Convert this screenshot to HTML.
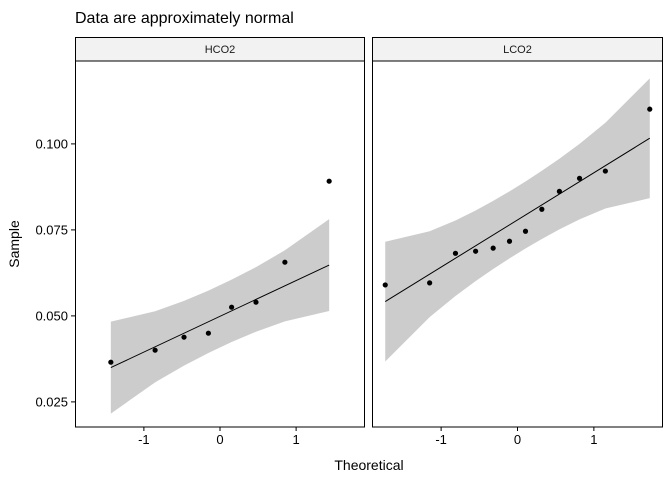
<!DOCTYPE html>
<html><head><meta charset="utf-8"><style>
body{margin:0;background:#fff;}
svg{font-family:"Liberation Sans",Arial,sans-serif;display:block}
</style></head><body>
<svg id="chart" width="672" height="480" xmlns="http://www.w3.org/2000/svg"></svg>
<script>
const panelNames = ["HCO2", "LCO2"];
const hco2Values = [0.03654, 0.04003, 0.04381, 0.04497, 0.05253, 0.05398, 0.06561, 0.08916];
const lco2Values = [0.0590, 0.0596, 0.0682, 0.0688, 0.0697, 0.0717, 0.0746, 0.0810, 0.0862, 0.0900, 0.0921, 0.1101];
const yTicks = [0.025, 0.050, 0.075, 0.100];
const yTickLabels = ["0.025", "0.050", "0.075", "0.100"];
const xTicks = [-1, 0, 1];
const xTickLabels = ["-1", "0", "1"];

const NS = "http://www.w3.org/2000/svg";
const svg = document.getElementById("chart");
function el(tag, attrs, parent) {
  const e = document.createElementNS(NS, tag);
  for (const k in attrs) e.setAttribute(k, attrs[k]);
  (parent || svg).appendChild(e);
  return e;
}
const panelTop = 61, panelBottom = 427;
const yMin = 0.0177, yMax = 0.1241;
const xMin = -1.905, xMax = 1.905;
function yScale(v) { return panelBottom - (v - yMin) / (yMax - yMin) * (panelBottom - panelTop); }
const panels = [{l: 75, r: 365, data: hco2Values}, {l: 372, r: 663, data: lco2Values}];

function qnorm(p) {
  const a=[-39.69683028665376,220.9460984245205,-275.9285104469687,138.3577518672690,-30.66479806614716,2.506628277459239];
  const b=[-54.47609879822406,161.5858368580409,-155.6989798598866,66.80131188771972,-13.28068155211847];
  const c=[-0.007784894002430293,-0.3223964580411365,-2.400758277161838,-2.549732539343734,4.374664141464968,2.938163982698783];
  const d=[0.007784695709041462,0.3224671290700398,2.445134137142996,3.754408661907416];
  let q, r;
  if (p < 0.02425) { q = Math.sqrt(-2*Math.log(p)); return (((((c[0]*q+c[1])*q+c[2])*q+c[3])*q+c[4])*q+c[5])/((((d[0]*q+d[1])*q+d[2])*q+d[3])*q+1); }
  if (p > 1-0.02425) { q = Math.sqrt(-2*Math.log(1-p)); return -(((((c[0]*q+c[1])*q+c[2])*q+c[3])*q+c[4])*q+c[5])/((((d[0]*q+d[1])*q+d[2])*q+d[3])*q+1); }
  q = p-0.5; r = q*q;
  return (((((a[0]*r+a[1])*r+a[2])*r+a[3])*r+a[4])*r+a[5])*q/(((((b[0]*r+b[1])*r+b[2])*r+b[3])*r+b[4])*r+1);
}
function dnorm(x) { return Math.exp(-x*x/2) / Math.sqrt(2*Math.PI); }
function quantile(s, p) { const h = (s.length-1)*p, lo = Math.floor(h); return s[lo] + (h-lo)*((s[lo+1]!==undefined?s[lo+1]:s[lo]) - s[lo]); }

let t = el("text", {x: 75, y: 23, "font-size": 16, fill: "#000"}); t.textContent = "Data are approximately normal";


t = el("text", {x: 369, y: 470, "font-size": 14, fill: "#000", "text-anchor": "middle"}); t.textContent = "Theoretical";


t = el("text", {x: 19, y: 244, "font-size": 14, fill: "#000", "text-anchor": "middle", transform: "rotate(-90 19 244)"}); t.textContent = "Sample";



yTicks.forEach((v, i) => {
  const y = yScale(v);
  const tk = el("line", {x1: 71, x2: 75, y1: y, y2: y, stroke: "#000", "stroke-width": 1});
  
  
  const lb = el("text", {x: 68, y: y + 4.5, "font-size": 13, fill: "#000", "text-anchor": "end"});
  lb.textContent = yTickLabels[i];
  
  
});

panels.forEach((p, pi) => {
  const xs = v => p.l + (v - xMin) / (xMax - xMin) * (p.r - p.l);
  const g = el("g", {});
  
  
  const n = p.data.length, a = n <= 10 ? 0.375 : 0.5;
  const probs = p.data.map((_, i) => (i + 1 - a) / (n + 1 - 2*a));
  const z = probs.map(qnorm);
  const s = p.data.slice().sort((u, w) => u - w);
  const q1 = quantile(s, 0.25), q3 = quantile(s, 0.75);
  const slope = (q3 - q1) / (qnorm(0.75) - qnorm(0.25));
  const inter = q1 - slope * qnorm(0.25);
  const up = [], lo = [];
  z.forEach((zz, i) => {
    const fit = inter + slope * zz;
    const se = slope / dnorm(zz) * Math.sqrt(probs[i] * (1 - probs[i]) / n);
    up.push(xs(zz) + "," + yScale(fit + 1.96 * se));
    lo.unshift(xs(zz) + "," + yScale(fit - 1.96 * se));
  });
  const band = el("polygon", {points: up.concat(lo).join(" "), fill: "#cccccc"}, g);
  
  
  const ln = el("line", {x1: xs(z[0]), y1: yScale(inter + slope*z[0]), x2: xs(z[n-1]), y2: yScale(inter + slope*z[n-1]), stroke: "#000", "stroke-width": 1}, g);
  
  
  s.forEach((v, i) => {
    const c = el("circle", {cx: xs(z[i]), cy: yScale(v), r: 2.6, fill: "#000"}, g);
    
    
  });
  const bd = el("rect", {x: p.l + 0.5, y: panelTop, width: p.r - p.l - 1, height: panelBottom - panelTop, fill: "none", stroke: "#000", "stroke-width": 1}, g);
  
  
  const st = el("rect", {x: p.l + 0.5, y: 37.5, width: p.r - p.l - 1, height: 23.5, fill: "#f2f2f2", stroke: "#000", "stroke-width": 1}, g);
  
  
  const sl = el("text", {x: (p.l + p.r) / 2, y: 53, "font-size": 11, fill: "#1a1a1a", "text-anchor": "middle"}, g);
  sl.textContent = panelNames[pi];
  
  
  xTicks.forEach((v, i) => {
    const x = xs(v);
    const tk = el("line", {x1: x, x2: x, y1: panelBottom, y2: panelBottom + 4, stroke: "#000", "stroke-width": 1}, g);
    
    
    const lb = el("text", {x: x, y: panelBottom + 17, "font-size": 13, fill: "#000", "text-anchor": "middle"}, g);
    lb.textContent = xTickLabels[i];
    
    
  });
});
</script>
</body></html>
